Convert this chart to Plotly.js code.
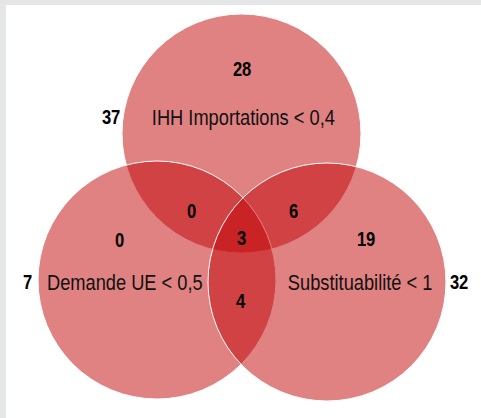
<!DOCTYPE html>
<html>
<head>
<meta charset="utf-8">
<script src="https://cdn.plot.ly/plotly-3.0.1.min.js"></script>
<style>html,body{margin:0;padding:0;background:#fff;}#chart{width:481px;height:418px;}</style>
</head>
<body>
<div id="chart"></div>
<script>
// Data
var setNames = ["IHH Importations < 0,4", "Demande UE < 0,5", "Substituabilité < 1"];
var onlyCounts = [28, 0, 19];          // inside each circle only
var outsideCounts = [37, 7, 32];       // labels outside each circle
var pairLabels = ["IHH∩Demande", "IHH∩Substituabilité", "Demande∩Substituabilité"];
var pairCounts = [0, 6, 4];
var tripleCount = 3;

// Layout geometry (pixels)
var circles = [
  {cx: 241.5, cy: 133.5, r: 119.5},
  {cx: 157, cy: 280, r: 119},
  {cx: 327, cy: 282, r: 119}
];
var onlyPos = [[242, 69], [119, 240], [366, 239]];
var namePos = [[243, 117], [125, 282], [360, 282]];
var outsidePos = [[111, 117], [27.5, 282], [459, 282]];
var pairPos = [[191, 211], [293, 211], [241, 301]];
var triplePos = [241.5, 238];

var fill = "rgba(193,4,6,0.5)";
var shapes = circles.map(function (c) {
  return {type: "circle", xref: "x", yref: "y",
    x0: c.cx - c.r, x1: c.cx + c.r, y0: c.cy - c.r, y1: c.cy + c.r,
    fillcolor: fill, line: {color: "#ffffff", width: 1}, layer: "below"};
});

var numFont = {family: "Liberation Sans, Arial, sans-serif", size: 20, color: "#000000", weight: "bold"};
var nameFont = {family: "Liberation Sans, Arial, sans-serif", size: 22, color: "#111111"};

function ann(pos, text, font) {
  return {x: pos[0], y: pos[1], xref: "x", yref: "y", text: text, showarrow: false,
    xanchor: "center", yanchor: "middle", font: font};
}
var annotations = [];
for (var i = 0; i < 3; i++) {
  annotations.push(ann(onlyPos[i], "<b>" + onlyCounts[i] + "</b>", numFont));
  annotations.push(ann(namePos[i], setNames[i], nameFont));
  annotations.push(ann(outsidePos[i], "<b>" + outsideCounts[i] + "</b>", numFont));
  annotations.push(ann(pairPos[i], "<b>" + pairCounts[i] + "</b>", numFont));
}
annotations.push(ann(triplePos, "<b>" + tripleCount + "</b>", numFont));

var layout = {
  width: 481, height: 418,
  margin: {l: 6, r: 0, t: 5, b: 0, pad: 0},
  paper_bgcolor: "#e5e6e8",
  plot_bgcolor: "#ffffff",
  showlegend: false,
  xaxis: {range: [6, 481], visible: false, fixedrange: true},
  yaxis: {range: [418, 5], visible: false, fixedrange: true},
  shapes: shapes,
  annotations: annotations
};

// Narrow the text horizontally (Arial Narrow look)
function narrow() {
  var k = 0.83;
  document.querySelectorAll("#chart text.annotation-text").forEach(function (t) {
    var x = parseFloat(t.getAttribute("x")) || 0;
    t.setAttribute("transform", "translate(" + x + ",0) scale(" + k + ",1) translate(" + (-x) + ",0)");
  });
}

Plotly.newPlot("chart", [{x: [], y: [], type: "scatter", mode: "markers", hoverinfo: "skip"}], layout, {staticPlot: true, displayModeBar: false}).then(narrow);
</script>
</body>
</html>
